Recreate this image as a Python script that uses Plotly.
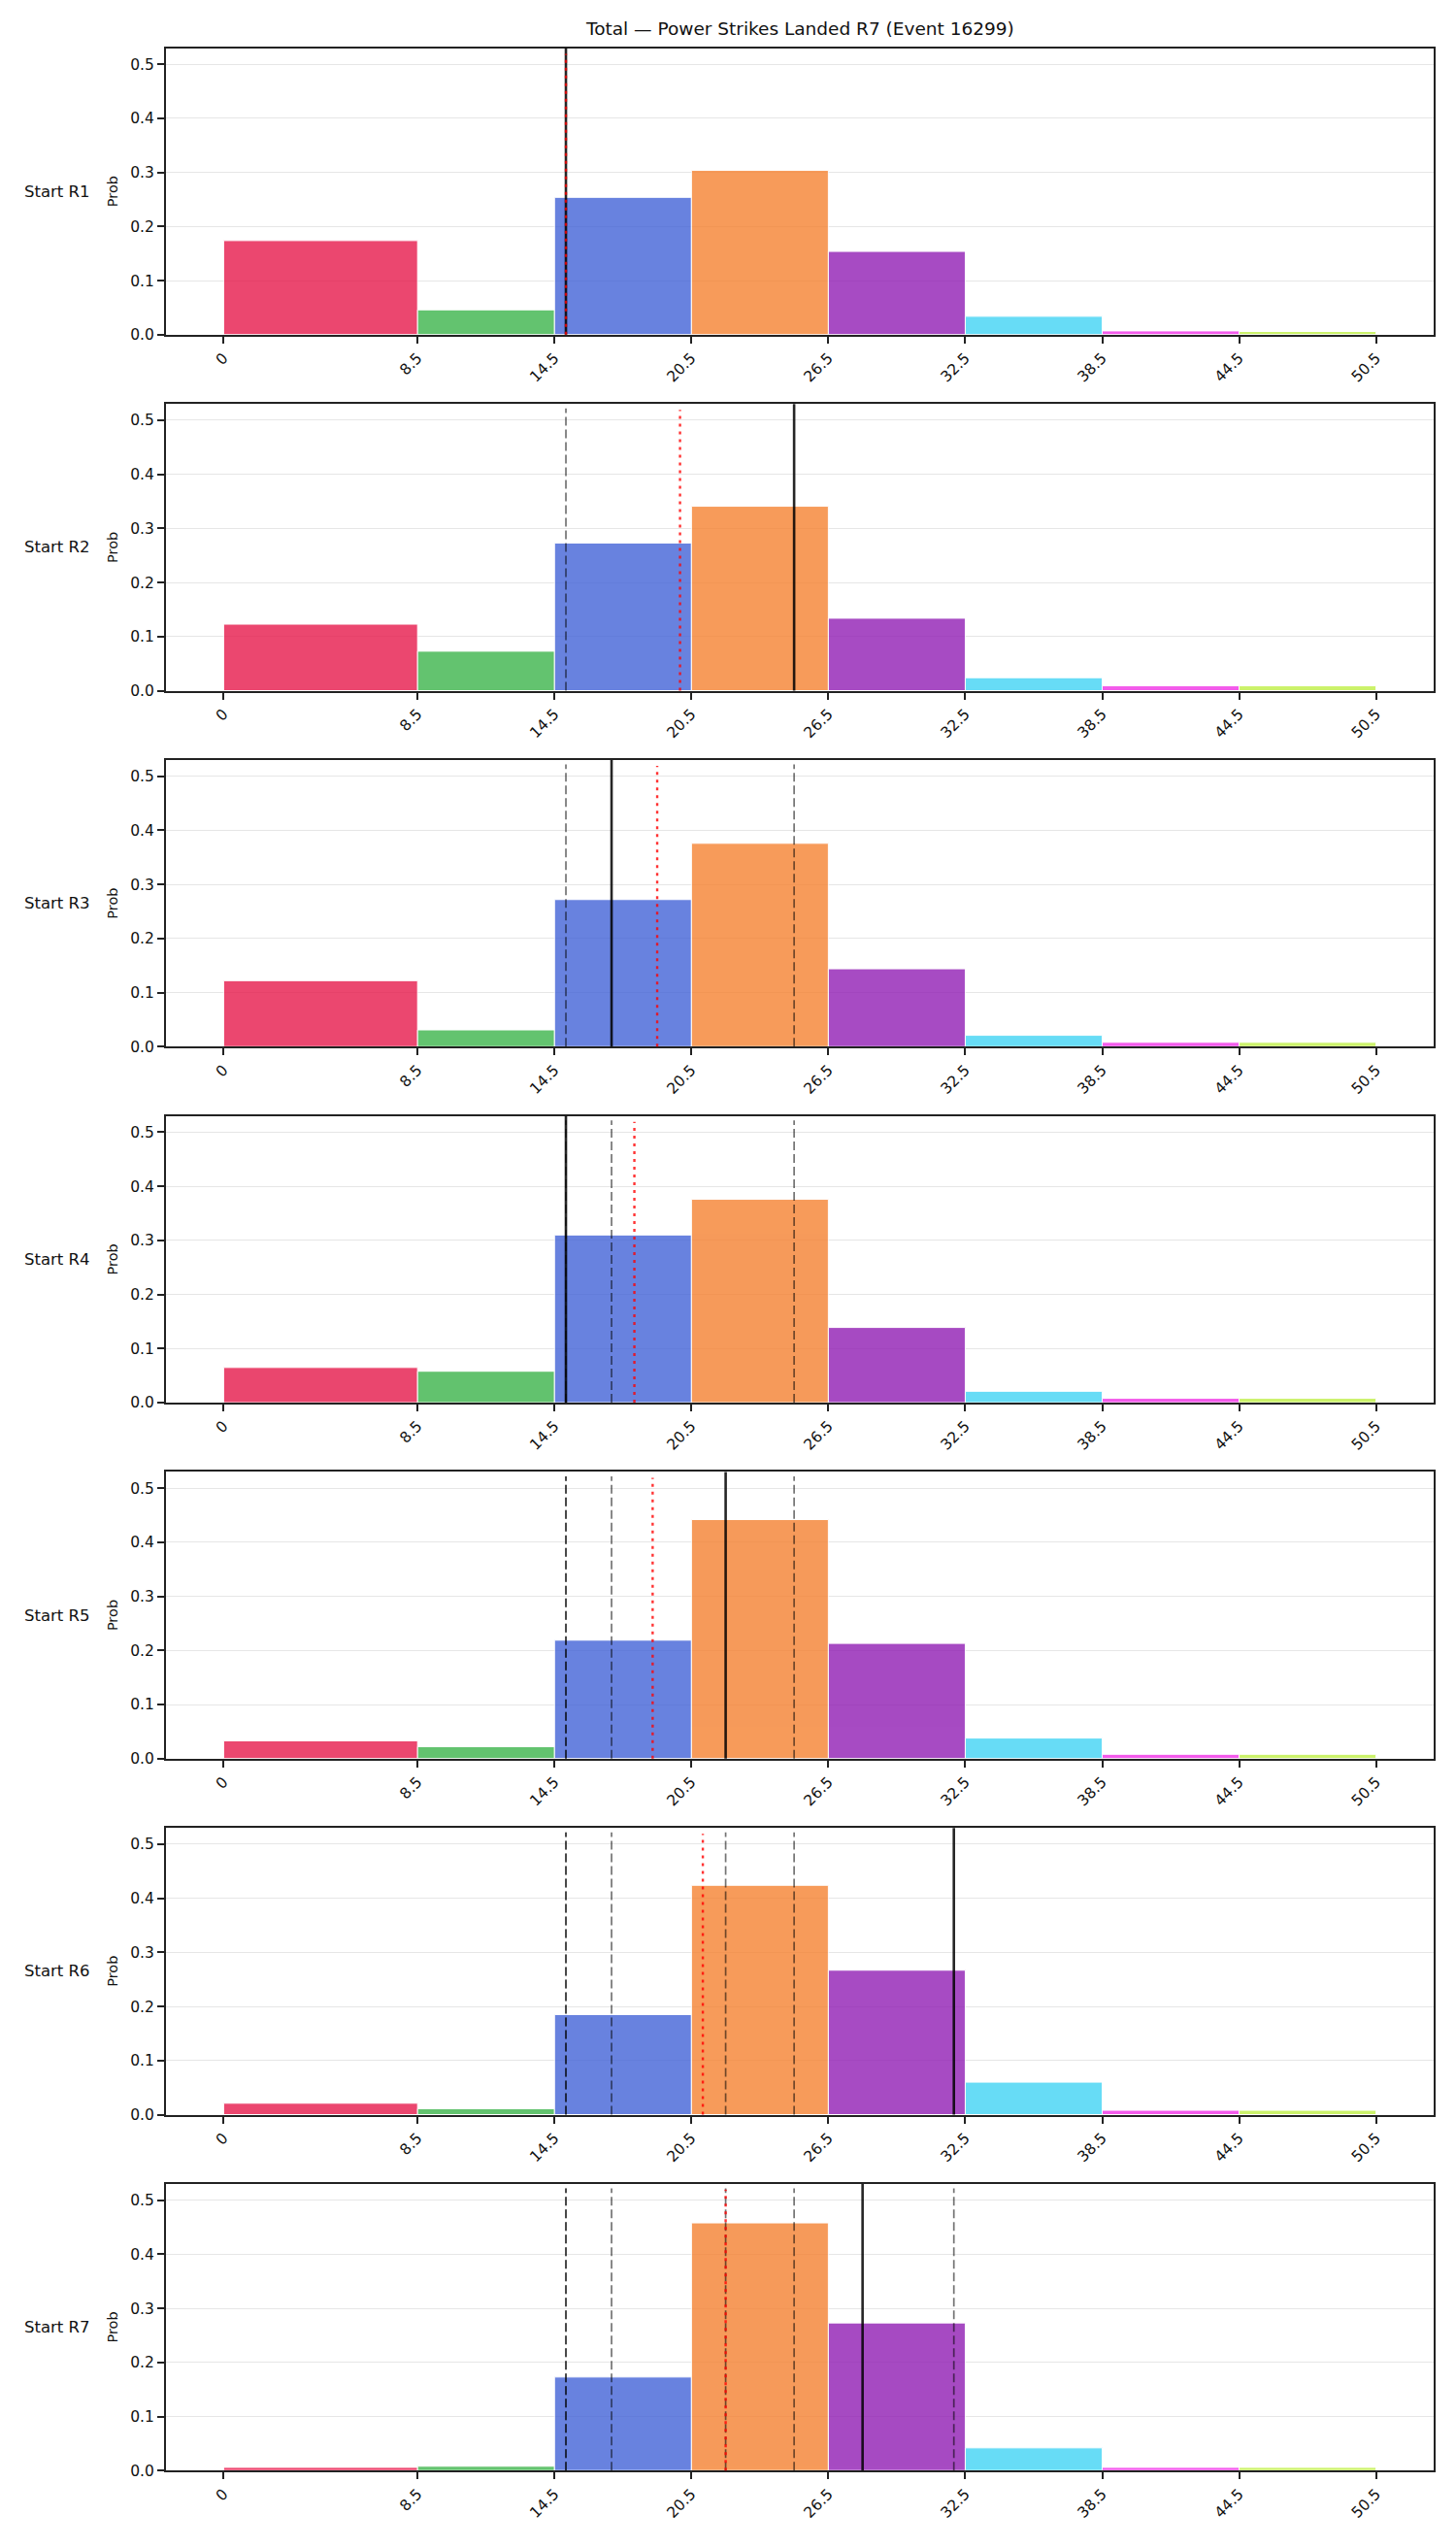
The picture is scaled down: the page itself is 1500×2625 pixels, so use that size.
import plotly.graph_objects as go

# ---------------- data ----------------
title_text = "Total — Power Strikes Landed R7 (Event 16299)"
bin_edges = [0, 8.5, 14.5, 20.5, 26.5, 32.5, 38.5, 44.5, 50.5]
tick_labels = ["0", "8.5", "14.5", "20.5", "26.5", "32.5", "38.5", "44.5", "50.5"]
round_labels = ["Start R1", "Start R2", "Start R3", "Start R4", "Start R5", "Start R6", "Start R7"]

probs_r1 = [0.174, 0.046, 0.254, 0.304, 0.154, 0.034, 0.007, 0.006]
probs_r2 = [0.123, 0.073, 0.273, 0.341, 0.134, 0.024, 0.009, 0.009]
probs_r3 = [0.122, 0.031, 0.272, 0.376, 0.144, 0.021, 0.008, 0.008]
probs_r4 = [0.065, 0.058, 0.310, 0.376, 0.139, 0.021, 0.008, 0.008]
probs_r5 = [0.033, 0.022, 0.219, 0.442, 0.213, 0.038, 0.008, 0.008]
probs_r6 = [0.021, 0.011, 0.185, 0.424, 0.267, 0.060, 0.008, 0.008]
probs_r7 = [0.006, 0.008, 0.173, 0.458, 0.273, 0.042, 0.006, 0.006]
all_probs = [probs_r1, probs_r2, probs_r3, probs_r4, probs_r5, probs_r6, probs_r7]

actual_values = [15, 25, 17, 15, 22, 32, 28]          # solid black lines
expected_values = [15, 20, 19, 18, 18.8, 21, 22]      # red dotted lines

bar_colors = ["#e6194b", "#3cb44b", "#4363d8", "#f58231",
              "#911eb4", "#42d4f4", "#f032e6", "#bfef45"]

# ---------------- layout geometry ----------------
W, H = 1500, 2625
x_left_px, x_right_px = 171, 1477
panel_top0, panel_step, panel_h = 49.7, 368.0, 296.3
FONT = "DejaVu Sans"

centers = [(a + b) / 2 for a, b in zip(bin_edges[:-1], bin_edges[1:])]
widths = [b - a for a, b in zip(bin_edges[:-1], bin_edges[1:])]

fig = go.Figure()
layout_axes = {}
shapes = []
annotations = []

for i, probs in enumerate(all_probs):
    k = i + 1
    xs = "x" if k == 1 else f"x{k}"
    ys = "y" if k == 1 else f"y{k}"
    xname = "xaxis" if k == 1 else f"xaxis{k}"
    yname = "yaxis" if k == 1 else f"yaxis{k}"

    fig.add_trace(go.Bar(
        x=centers, y=probs, width=widths,
        marker=dict(color=bar_colors, opacity=0.8,
                    line=dict(color="white", width=1)),
        xaxis=xs, yaxis=ys, showlegend=False, hoverinfo="x+y"))

    top = panel_top0 + panel_step * i
    bottom = top + panel_h
    dom = [1 - bottom / H, 1 - top / H]

    layout_axes[xname] = dict(
        domain=[x_left_px / W, x_right_px / W], anchor=ys,
        range=[-2.525, 53.025], tickmode="array",
        tickvals=bin_edges, ticktext=tick_labels, tickangle=-45,
        showgrid=False, zeroline=False, showline=True, mirror=True,
        linecolor="#222", linewidth=2, ticks="outside", ticklen=7,
        tickwidth=1.6, tickcolor="#222",
        tickfont=dict(family=FONT, size=15.5, color="#111"))
    layout_axes[yname] = dict(
        domain=dom, anchor=xs, range=[0, 0.53],
        tickvals=[0, 0.1, 0.2, 0.3, 0.4, 0.5], tickformat=".1f",
        showgrid=True, gridcolor="#e6e6e6", gridwidth=1.3,
        zeroline=False, showline=True, mirror=True,
        linecolor="#222", linewidth=2, ticks="outside", ticklen=7,
        tickwidth=1.6, tickcolor="#222",
        tickfont=dict(family=FONT, size=15.5, color="#111"))

    # previous rounds' actual values (dashed grey)
    for v in actual_values[:i]:
        shapes.append(dict(type="line", xref=xs, yref=f"{ys} domain",
                           x0=v, x1=v, y0=0, y1=0.985,
                           line=dict(color="rgba(0,0,0,0.55)", width=1.7, dash="9px,4px")))
    # this round's actual value (solid black)
    shapes.append(dict(type="line", xref=xs, yref=f"{ys} domain",
                       x0=actual_values[i], x1=actual_values[i], y0=0, y1=1,
                       line=dict(color="rgba(0,0,0,0.85)", width=2.6)))
    # expected value (red dotted)
    shapes.append(dict(type="line", xref=xs, yref=f"{ys} domain",
                       x0=expected_values[i], x1=expected_values[i], y0=0, y1=0.98,
                       line=dict(color="rgba(255,0,0,0.8)", width=2.4, dash="3px,5px")))

    ymid = 1 - (top + panel_h / 2) / H
    annotations.append(dict(text=round_labels[i], xref="paper", yref="paper",
                            x=23 / W, y=ymid, xanchor="left", yanchor="middle",
                            showarrow=False, font=dict(family=FONT, size=16.5, color="#111")))
    annotations.append(dict(text="Prob", xref="paper", yref="paper",
                            x=116 / W, y=ymid, xanchor="center", yanchor="middle",
                            textangle=-90, showarrow=False,
                            font=dict(family=FONT, size=14.5, color="#111")))

annotations.append(dict(text=title_text, xref="paper", yref="paper",
                        x=((x_left_px + x_right_px) / 2) / W, y=1 - 30 / H,
                        xanchor="center", yanchor="middle", showarrow=False,
                        font=dict(family=FONT, size=18.5, color="#111")))

fig.update_layout(
    width=W, height=H, margin=dict(l=0, r=0, t=0, b=0),
    paper_bgcolor="white", plot_bgcolor="white",
    shapes=shapes, annotations=annotations, showlegend=False,
    **layout_axes)

fig.write_html("out.html")
